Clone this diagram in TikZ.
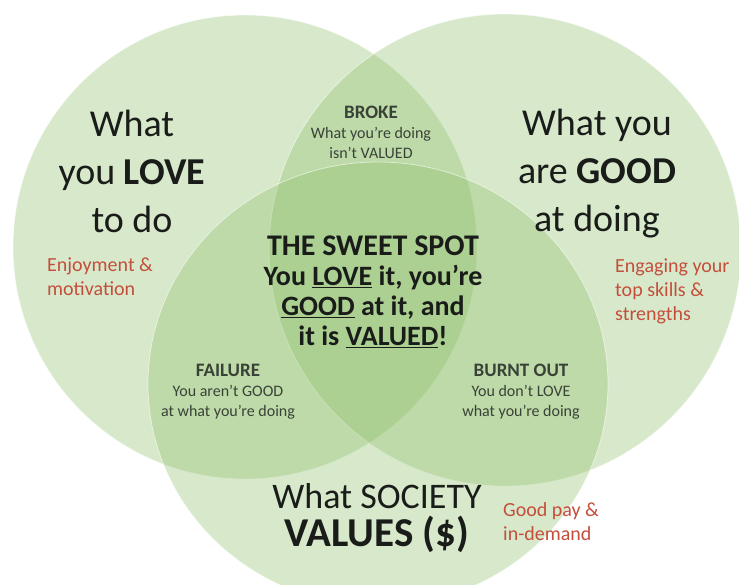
\documentclass[tikz,border=0pt]{standalone}
\usepackage{fontspec}
\setmainfont{Carlito}
\definecolor{venn}{HTML}{8DC06A}
\definecolor{redtxt}{RGB}{196,78,60}
\definecolor{graytxt}{RGB}{58,66,56}
\definecolor{blacktxt}{RGB}{25,28,25}
\begin{document}
\begin{tikzpicture}[x=1pt,y=-1pt,
  circ/.style={fill=venn, fill opacity=0.35, draw=white, draw opacity=0.55, line width=0.8pt},
  big/.style={font=\fontsize{38}{48}\selectfont, align=center, text=blacktxt, inner sep=0pt},
  sub/.style={font=\fontsize{20}{24}\selectfont, align=left, text=redtxt, anchor=west, inner sep=0pt},
  zone/.style={font=\fontsize{16}{20}\selectfont, align=center, text=graytxt, inner sep=0pt},
  sweet/.style={font=\bfseries\fontsize{28}{30}\selectfont, align=center, text=blacktxt, inner sep=0pt}]
\useasboundingbox (0,0) rectangle (739,584);
\fill[white] (0,0) rectangle (739,584);
\path[circ] (245,247) circle[radius=232];
\path[circ] (505,250) circle[radius=236];
\path[circ] (378,384) ellipse[x radius=230, y radius=222];
\node[big] (love) at (132,171) {What\\you \textbf{LOVE}\\to do};
\node[big] (good) at (597,174) {What you\\are \textbf{GOOD}\\at doing};
\node[big, font=\fontsize{36}{38}\selectfont] (society) at (377,518) {What SOCIETY\\{\bfseries\fontsize{41}{38}\selectfont VALUES (\$)}};
\node[sub] (enjoy) at (47,277) {Enjoyment \&\\motivation};
\node[sub] (engage) at (615,291) {Engaging your\\top skills \&\\strengths};
\node[sub] (pay) at (503,522) {Good pay \&\\in-demand};
\node[sweet] (spot) at (373,292) {{\fontsize{30}{30}\selectfont THE SWEET SPOT}\\You \underline{LOVE} it, you’re\\\underline{GOOD} at it, and\\it is \underline{VALUED}!};
\node[zone] (broke) at (371,132) {{\bfseries\fontsize{19}{20}\selectfont BROKE}\\What you’re doing\\isn’t VALUED};
\node[zone] (failure) at (228,392) {{\bfseries\fontsize{19}{20}\selectfont FAILURE}\\You aren’t GOOD\\at what you’re doing};
\node[zone] (burnt) at (521,392) {{\bfseries\fontsize{19}{20}\selectfont BURNT OUT}\\You don’t LOVE\\what you’re doing};
\end{tikzpicture}
\end{document}
